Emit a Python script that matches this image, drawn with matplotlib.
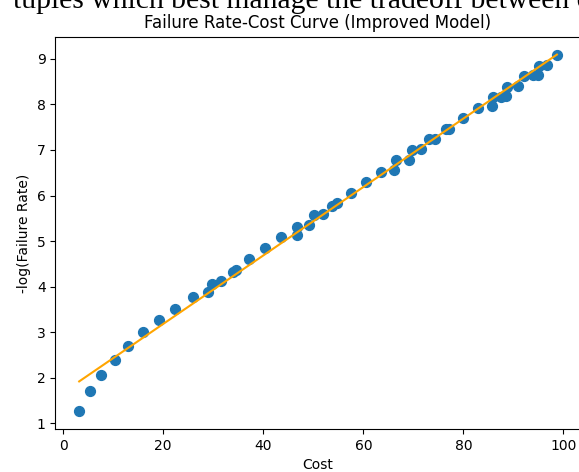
import numpy as np
import matplotlib
matplotlib.use("Agg")
import matplotlib.pyplot as plt

# values
cost = [3.2, 5.3, 7.5, 10.3, 12.9, 15.9, 19.1, 22.3, 26.0, 29.0,
        29.8, 31.6, 33.9, 34.6, 37.2, 40.3, 43.5, 46.7, 46.8, 49.1,
        50.1, 52.0, 53.7, 54.7, 57.5, 60.5, 63.5, 66.1, 66.6, 69.1,
        69.8, 71.5, 73.1, 74.3, 76.5, 77.1, 80.0, 83.0, 85.8, 85.9,
        87.5, 88.5, 88.8, 91.0, 92.1, 94.0, 95.0, 95.2, 96.7, 98.7]
neg_log_rate = [1.27, 1.72, 2.07, 2.40, 2.70, 3.00, 3.27, 3.52, 3.78, 3.89,
                4.05, 4.12, 4.32, 4.36, 4.60, 4.84, 5.09, 5.14, 5.31, 5.36,
                5.57, 5.59, 5.77, 5.83, 6.06, 6.30, 6.52, 6.57, 6.77, 6.79,
                6.99, 7.02, 7.23, 7.25, 7.45, 7.47, 7.69, 7.93, 7.96, 8.16,
                8.16, 8.18, 8.38, 8.41, 8.62, 8.64, 8.64, 8.85, 8.87, 9.08]

x = np.array(cost)
y = np.array(neg_log_rate)

# straight line fit through the points
slope, intercept = np.polyfit(x, y, 1)
fit_x = np.array([x.min(), x.max()])
fit_y = slope * fit_x + intercept

fig = plt.figure(figsize=(5.79, 4.72), dpi=100)
ax = fig.add_axes([0.0955, 0.0911, 0.9076, 0.831])

ax.scatter(x, y, s=50, color='#1f77b4')
ax.plot(fit_x, fit_y, color='orange')

ax.set_title('Failure Rate-Cost Curve (Improved Model)')
ax.set_xlabel('Cost')
ax.set_ylabel('-log(Failure Rate)')

# bit of the surrounding document text, cut off at the top
fig.text(13 / 579, 1.0 - 8 / 472, 'tuples which best manage the tradeoff between cost',
         family='Liberation Serif', fontsize=21.3, ha='left', va='baseline')

fig.savefig('out.png', dpi=100)
